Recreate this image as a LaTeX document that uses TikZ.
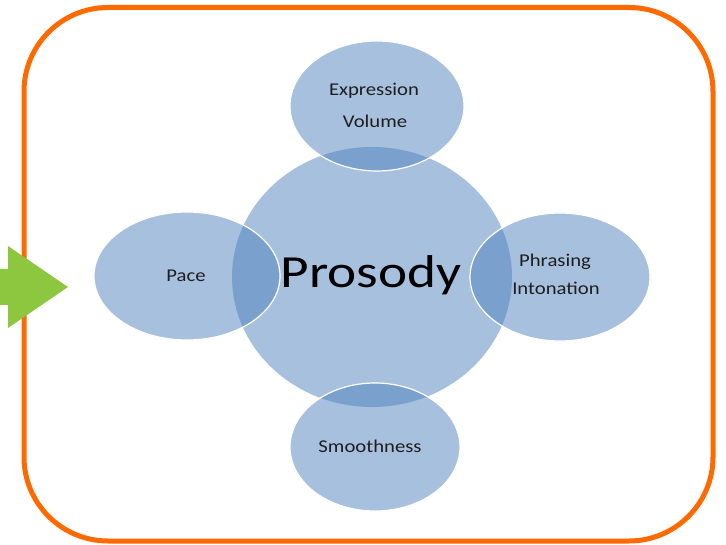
\documentclass[tikz,border=0pt]{standalone}
\usepackage{fontspec}
\setmainfont{Carlito}
\usepackage{graphicx}
\usetikzlibrary{shapes.geometric}
\definecolor{ringorange}{HTML}{FF6A00}
\definecolor{arrowgreen}{HTML}{8DC63F}
\definecolor{bubbleblue}{HTML}{4F81BD}
\definecolor{labelink}{HTML}{1E1E1E}
\begin{document}
\begin{tikzpicture}[x=1pt,y=-1pt,
  core/.style={ellipse, fill=bubbleblue, fill opacity=0.5, inner sep=0pt},
  bubble/.style={ellipse, fill=bubbleblue, fill opacity=0.5, draw=white, draw opacity=1, line width=1.2pt, inner sep=0pt},
  lbl/.style={font=\fontsize{18}{22}\selectfont, text=labelink, anchor=base, inner sep=0pt, xscale=1.15},
  bigtxt/.style={font=\fontsize{46}{52}\selectfont, text=black, anchor=base, inner sep=0pt, xscale=1.2}]
\useasboundingbox (0,0) rectangle (726,545);
% frame
\draw[ringorange, line width=5pt, rounded corners=84pt] (24,7.5) rectangle (713,541);
% green arrow
\fill[arrowgreen] (0,269) -- (8,269) -- (8,246) -- (68,287) -- (8,328) -- (8,305) -- (0,305) -- cycle;
% circles
\node[core, minimum width=280pt, minimum height=260pt] (prosody) at (372,277) {};
\node[bubble, minimum width=174pt, minimum height=130pt] (top) at (377,106) {};
\node[bubble, minimum width=186pt, minimum height=128pt] (left) at (187,276) {};
\node[bubble, minimum width=180pt, minimum height=128pt] (right) at (560,277) {};
\node[bubble, minimum width=170pt, minimum height=128pt] (bottom) at (375,447) {};
% texts
\node[bigtxt] (tprosody) at (371,288) {Prosody};
\node[lbl] (texpr) at (374,96) {Expression};
\node[lbl] (tvol) at (375,128) {Volume};
\node[lbl] (tpace) at (186,282) {Pace};
\node[lbl] (tphr) at (555,267) {Phrasing};
\node[lbl] (tint) at (556,295) {Intonation};
\node[lbl] (tsmooth) at (370,452) {Smoothness};
\end{tikzpicture}
\end{document}
